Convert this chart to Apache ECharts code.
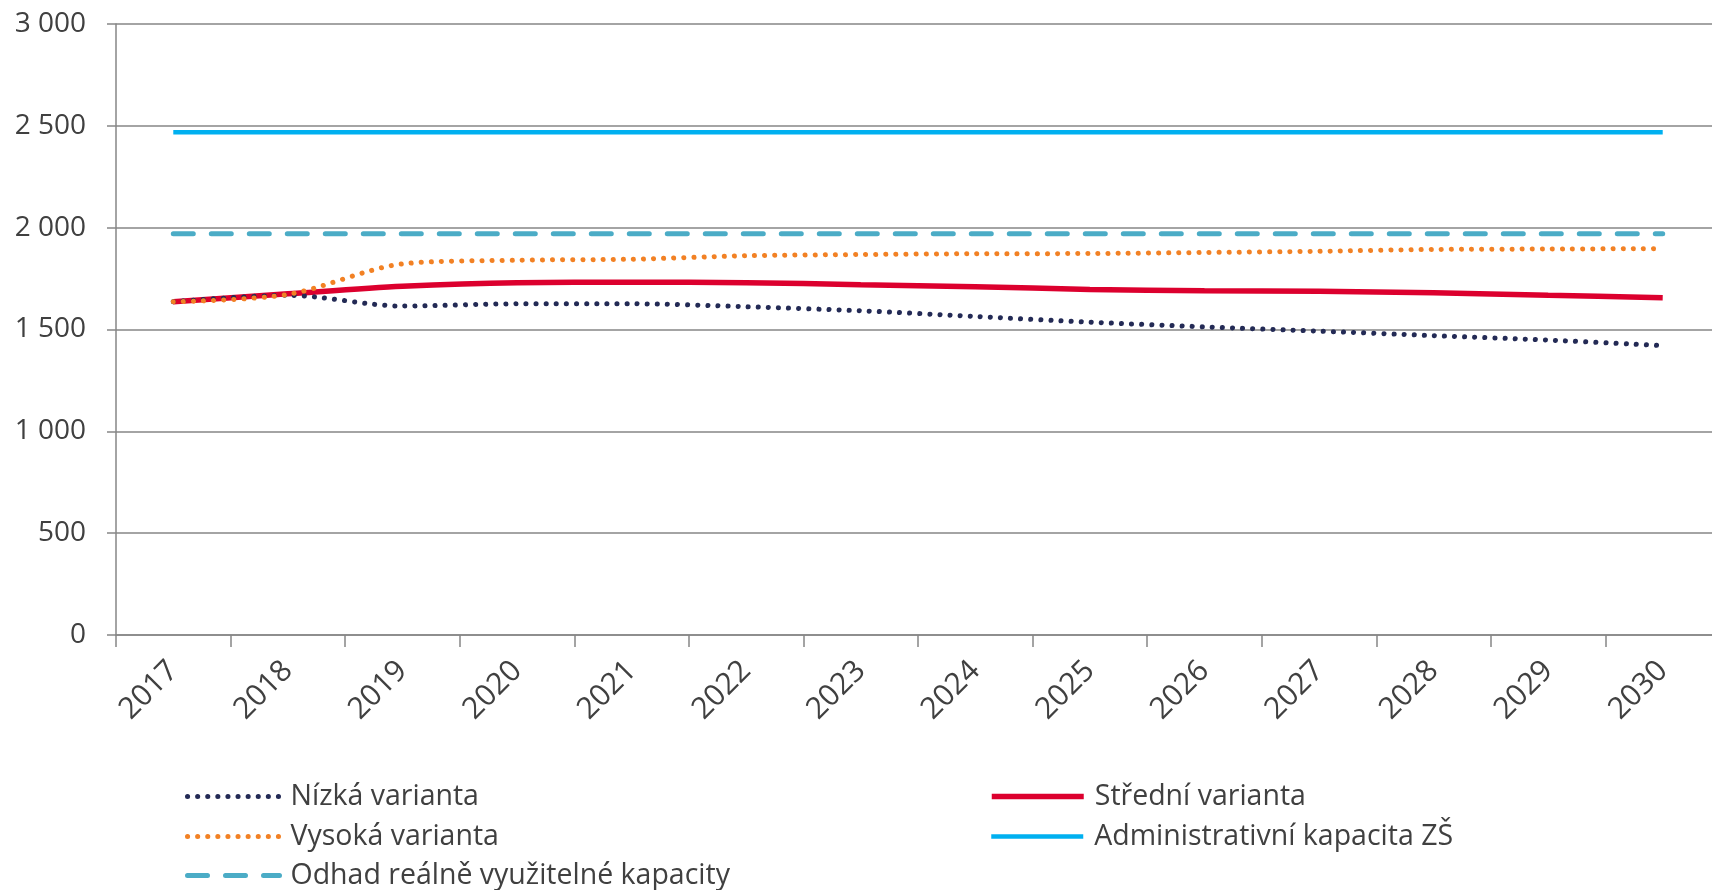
<!DOCTYPE html>
<html>
<head>
<meta charset="utf-8">
<script src="https://cdn.jsdelivr.net/npm/echarts@6/dist/echarts.min.js"></script>
<style>
  html, body { margin: 0; padding: 0; background: #fff; }
  #chart { width: 1712px; height: 890px; }
</style>
</head>
<body>
<div id="chart"></div>
<script>
const years = ['2017', '2018', '2019', '2020', '2021', '2022', '2023', '2024', '2025', '2026', '2027', '2028', '2029', '2030'];

const nizka = [1636, 1668, 1615, 1626, 1626, 1612, 1592, 1564, 1536, 1513, 1492, 1470, 1448, 1421];
const stredni = [1636, 1675, 1712, 1730, 1732, 1730, 1720, 1710, 1697, 1690, 1688, 1680, 1668, 1656];
const vysoka = [1636, 1672, 1822, 1840, 1845, 1862, 1868, 1872, 1873, 1878, 1884, 1893, 1895, 1897];
const adminKapacita = [2468, 2468, 2468, 2468, 2468, 2468, 2468, 2468, 2468, 2468, 2468, 2468, 2468, 2468];
const odhadKapacity = [1970, 1970, 1970, 1970, 1970, 1970, 1970, 1970, 1970, 1970, 1970, 1970, 1970, 1970];

const yTicks = [0, 500, 1000, 1500, 2000, 2500, 3000];

const chart = echarts.init(document.getElementById('chart'));

const font = 'Open Sans';
const gray = '#868686';
const textColor = '#404040';

// one legend box per entry, placed like the original two-column layout
function legendItem(name, left, top) {
    return {
        left: left,
        top: top,
        itemWidth: 92,
        itemHeight: 14,
        padding: 0,
        textStyle: { fontFamily: font, fontSize: 28.5, color: textColor, padding: [0, 0, 0, 6] },
        itemStyle: { opacity: 0 },
        lineStyle: { width: 'inherit' },
        data: [name]
    };
}

chart.setOption({
    animation: false,
    backgroundColor: '#fff',
    grid: { left: 116, width: 1604, top: 24, bottom: 255, outerBoundsMode: 'none' },
    legend: [
        legendItem('Nízká varianta', 185, 782),
        legendItem('Vysoká varianta', 185, 822),
        legendItem('Odhad reálně využitelné kapacity', 185, 861),
        legendItem('Střední varianta', 989, 782),
        legendItem('Administrativní kapacita ZŠ', 989, 822)
    ],
    xAxis: {
        type: 'category',
        data: years,
        boundaryGap: true,
        axisLine: { lineStyle: { color: gray, width: 1.5 } },
        axisTick: { show: true, length: 12, lineStyle: { color: gray, width: 1.5 } },
        axisLabel: {
            rotate: 45,
            margin: 31,
            fontFamily: font,
            fontSize: 30,
            color: textColor
        }
    },
    yAxis: {
        type: 'value',
        min: yTicks[0],
        max: yTicks[yTicks.length - 1],
        interval: 500,
        axisLine: { show: true, lineStyle: { color: gray, width: 1.5 } },
        axisTick: { show: true, length: 9, lineStyle: { color: gray, width: 1.5 } },
        splitLine: { lineStyle: { color: gray, width: 1.5 } },
        axisLabel: {
            margin: 30,
            fontFamily: font,
            fontSize: 28,
            color: textColor,
            formatter: v => String(v).replace(/\B(?=(\d{3})+(?!\d))/g, ' ')
        }
    },
    series: [
        {
            name: 'Nízká varianta',
            type: 'line',
            data: nizka,
            smooth: 0.3,
            symbol: 'none',
            z: 3,
            itemStyle: { color: '#232a55' },
            lineStyle: { color: '#232a55', width: 5, type: [0.1, 10], cap: 'round' }
        },
        {
            name: 'Střední varianta',
            type: 'line',
            data: stredni,
            smooth: 0.3,
            symbol: 'none',
            z: 2,
            itemStyle: { color: '#dc002e' },
            lineStyle: { color: '#dc002e', width: 5.5 }
        },
        {
            name: 'Vysoká varianta',
            type: 'line',
            data: vysoka,
            smooth: 0.3,
            symbol: 'none',
            z: 4,
            itemStyle: { color: '#f28124' },
            lineStyle: { color: '#f28124', width: 5, type: [0.1, 10], cap: 'round' }
        },
        {
            name: 'Administrativní kapacita ZŠ',
            type: 'line',
            data: adminKapacita,
            symbol: 'none',
            itemStyle: { color: '#00b0f0' },
            lineStyle: { color: '#00b0f0', width: 4.5 }
        },
        {
            name: 'Odhad reálně využitelné kapacity',
            type: 'line',
            data: odhadKapacity,
            symbol: 'none',
            itemStyle: { color: '#4bacc6' },
            lineStyle: { color: '#4bacc6', width: 5, type: [20, 18], cap: 'round' }
        }
    ]
});
</script>
</body>
</html>
